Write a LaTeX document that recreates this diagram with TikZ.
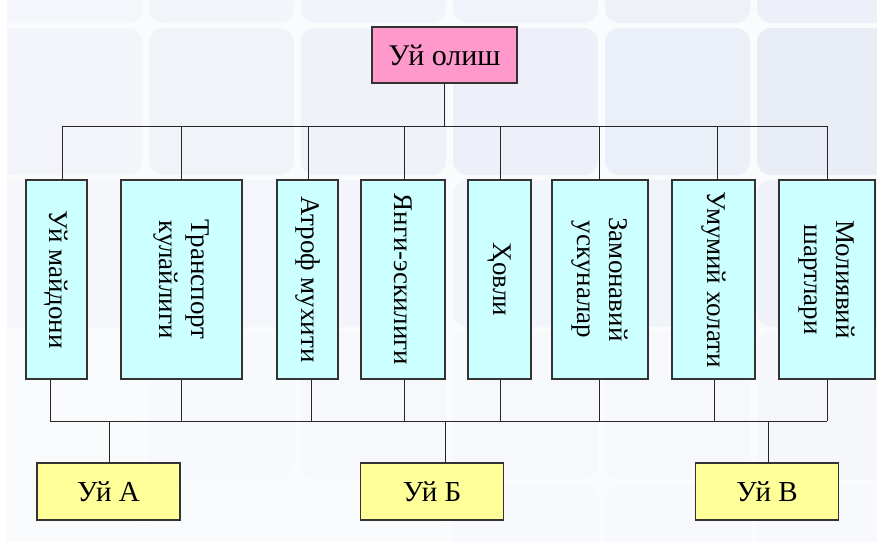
\documentclass[tikz,border=0pt]{standalone}
\usepackage{fontspec}
\setmainfont{Liberation Serif}

\definecolor{pinkbox}{RGB}{255,153,204}
\definecolor{cyanbox}{RGB}{204,255,255}
\definecolor{yellowbox}{RGB}{255,255,153}
\definecolor{pagebg}{RGB}{250,251,253}
\definecolor{tileblue}{RGB}{205,215,235}

\begin{document}
\begin{tikzpicture}[x=1pt,y=1pt,
    wire/.style={draw=black!85, line width=1pt},
    box/.style={draw=black!80, line width=1.3pt, inner sep=2pt, align=center},
    rootbox/.style={box, fill=pinkbox, minimum width=145pt, minimum height=56pt, font=\fontsize{30}{34}\selectfont},
    sidebox/.style={box, fill=cyanbox, rotate=-90, minimum width=199pt, minimum height=#1, font=\fontsize{27}{32}\selectfont},
    housebox/.style={box, fill=yellowbox, minimum width=143pt, minimum height=57pt, font=\fontsize{29}{33}\selectfont}]

    \useasboundingbox (0,0) rectangle (877,-546);

    % Background tiles
    \fill[pagebg] (7,0) rectangle (877,-541);
    \begin{scope}
        \clip (7,0) rectangle (877,-541);
        \foreach \row/\shade in {0/22,1/28,2/18,3/8,4/5}{
            \foreach \col in {0,...,5}{
                \pgfmathtruncatemacro{\p}{\shade*(0.6+0.15*\col)}
                \fill[tileblue!\p!pagebg, rounded corners=14pt]
                    ({-3+152*\col},{124-152*\row}) rectangle ++(145,-147);
            }
        }
    \end{scope}

    % Top of the tree
    \node[rootbox] (buy) at (444.5,-55) {Уй олиш};

    % Criteria
    \node[sidebox=61pt] (c1) at (56.5,-279.5) {Уй майдони};
    \node[sidebox=121pt] (c2) at (181.5,-279.5) {Транспорт\\кулайлиги};
    \node[sidebox=61pt] (c3) at (307.5,-279.5) {Атроф мухити};
    \node[sidebox=84pt] (c4) at (403,-279.5) {Янги-эскилиги};
    \node[sidebox=63pt] (c5) at (499.5,-279.5) {Ҳовли};
    \node[sidebox=96pt] (c6) at (600,-279.5) {Замонавий\\ускуналар};
    \node[sidebox=83pt] (c7) at (713.5,-279.5) {Умумий холати};
    \node[sidebox=96pt] (c8) at (827,-279.5) {Молиявий\\шартлари};

    % Houses
    \node[housebox] (hA) at (108.5,-491.5) {Уй А};
    \node[housebox] (hB) at (432,-491.5) {Уй Б};
    \node[housebox] (hC) at (767,-491.5) {Уй В};

    % Buses
    \coordinate (upbus) at (444.5,-126);
    \coordinate (lowbus) at (445,-421);

    % Upper connectors
    \draw[wire] (buy.south) -- (upbus);
    \draw[wire] ([xshift=5.5pt]c1.west |- upbus) -- (c8.west |- upbus);
    \foreach \c/\dx in {c1/5.5,c2/0,c3/0.5,c4/1,c5/0.5,c6/-1,c7/3.5,c8/0}
        \draw[wire] ([xshift=\dx pt]\c.west) -- ([xshift=\dx pt]\c.west |- upbus);

    % Lower connectors
    \draw[wire] ([xshift=-6.5pt]c1.east |- lowbus) -- (c8.east |- lowbus);
    \foreach \c/\dx in {c1/-6.5,c2/-0.5,c3/3.5,c4/1,c5/0.5,c6/-1,c7/0.5,c8/0}
        \draw[wire] ([xshift=\dx pt]\c.east) -- ([xshift=\dx pt]\c.east |- lowbus);
    \foreach \h/\dx in {hA/0.5,hB/13,hC/1}
        \draw[wire] ([xshift=\dx pt]\h.north) -- ([xshift=\dx pt]\h.north |- lowbus);

\end{tikzpicture}
\end{document}
